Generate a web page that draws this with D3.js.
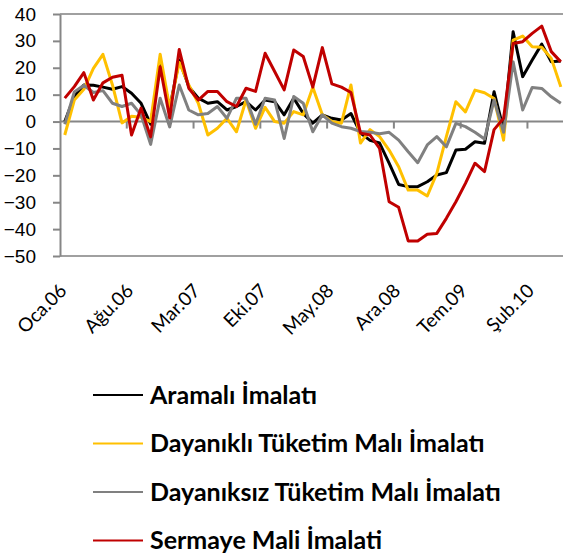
<!DOCTYPE html>
<html>
<head>
<meta charset="utf-8">
<script src="https://cdn.jsdelivr.net/npm/d3@7"></script>
<style>
    body { margin: 0; background: #fff; }
    svg { display: block; font-family: Lato, "Open Sans", sans-serif; }
</style>
</head>
<body>
<div id="chart"></div>
<script>
;(function () {
    "use strict";

    var categories = [
        "Oca.06","Şub.06","Mar.06","Nis.06","May.06","Haz.06","Tem.06","Ağu.06","Eyl.06","Eki.06","Kas.06","Ara.06",
        "Oca.07","Şub.07","Mar.07","Nis.07","May.07","Haz.07","Tem.07","Ağu.07","Eyl.07","Eki.07","Kas.07","Ara.07",
        "Oca.08","Şub.08","Mar.08","Nis.08","May.08","Haz.08","Tem.08","Ağu.08","Eyl.08","Eki.08","Kas.08","Ara.08",
        "Oca.09","Şub.09","Mar.09","Nis.09","May.09","Haz.09","Tem.09","Ağu.09","Eyl.09","Eki.09","Kas.09","Ara.09",
        "Oca.10","Şub.10","Mar.10","Nis.10","May.10"
    ];

    var aramali = [
        0, 9.3, 13.6, 13.5, 12.8, 12, 13, 10.5, 6.8, -1, 21, 5,
        22.9, 13, 8.7, 6.8, 7.4, 4.3, 5.6, 7.4, 4.3, 8, 7.4, 2.5,
        8.7, 3, -0.6, 2.5, 1.2, 0.6, 3, -4.3, -7, -8, -15.5, -23.4,
        -24.2, -24.2, -22.4, -19.9, -19, -10.6, -10.3, -7.5, -8.1, 11.1, -3, 33.4,
        16.7, 22.9, 28.8, 22.2, 22.5
    ];
    var dayanikli = [
        -5, 8, 12, 19.8, 25, 13.6, -0.5, 2, 1.6, 0, 25, 5,
        22, 13.6, 6.8, -5, -2.5, 1.2, -3.8, 8, -2.5, 5.3, 0, -0.6,
        3.7, 2.5, 12.8, 2.5, 0, -0.6, 13.6, -8, -3, -5.6, -10.6, -16.8,
        -25.5, -25.5, -27.7, -19.3, -5.6, 7.4, 3.6, 11.7, 10.7, 8.6, -6.9, 30.3,
        31.8, 27.8, 27.6, 23.5, 12.9
    ];
    var dayaniksiz = [
        -1, 11, 13.5, 10.8, 11.5, 6.8, 5.6, 6.8, 2.5, -8.5, 8.7, -2,
        13.6, 4.3, 2.5, 3, 5.6, 1.2, 8.7, 8.7, -1, 8.7, 8, -6.3,
        9.3, 6.8, -3.8, 2.5, -0.6, -1.9, -2.5, -3.7, -4, -4.5, -4, -6.9,
        -11.2, -15.3, -8.7, -5.6, -9.4, -0.7, -1.9, -4, -6.5, 8, -4, 22.2,
        4.3, 12.7, 12.3, 9.2, 6.8
    ];
    var sermaye = [
        8.7, 13, 18.2, 8, 14.4, 16.5, 17.2, -5, 5, -5.7, 20.4, 1.3,
        26.8, 12.4, 8, 11.2, 11.2, 7.4, 5.6, 12.4, 11.2, 25.4, 18.6, 11.8,
        26.6, 24.2, 12.8, 27.5, 14, 12.8, 10.8, -4.3, -5, -10, -29.8, -31.9,
        -44.4, -44.4, -41.9, -41.6, -36, -29.8, -23, -15.5, -18.6, -3, 1.2, 29,
        29.7, 32.8, 35.5, 26, 22.2
    ];

    var seriesNames = ["Aramalı İmalatı", "Dayanıklı Tüketim Malı İmalatı", "Dayanıksız Tüketim Malı İmalatı", "Sermaye Mali İmalati"];
    var seriesColors = ["#000000", "#FFC000", "#808080", "#C00000"];
    var seriesValues = [aramali, dayanikli, dayaniksiz, sermaye];
    var yTicks = [40, 30, 20, 10, 0, -10, -20, -30, -40, -50];
    var labelStep = 7;

    var width = 563, height = 558;
    var left = 60, top = 14, plotW = 505.6, bottom = 256;

    var svg = d3.select("#chart").append("svg")
        .attr("width", width)
        .attr("height", height);

    var x = d3.scaleBand().domain(categories).range([left, left + plotW]).padding(0);
    var y = d3.scaleLinear().domain([-50, 40]).range([bottom, top]);
    var cx = function (i) { return x(categories[i]) + x.bandwidth() / 2; };

    // plot frame lines top / bottom
    svg.append("line").attr("x1", left).attr("x2", width).attr("y1", y(40)).attr("y2", y(40))
        .attr("stroke", "#a0a0a0").attr("stroke-width", 2);
    svg.append("line").attr("x1", left).attr("x2", width).attr("y1", y(-50)).attr("y2", y(-50))
        .attr("stroke", "#a0a0a0").attr("stroke-width", 2);

    // y axis
    var yAxis = svg.append("g")
        .attr("transform", "translate(" + left + ",0)")
        .call(d3.axisLeft(y).tickValues(yTicks).tickSize(7).tickSizeOuter(0).tickFormat(d3.format("d")));
    yAxis.select(".domain").attr("stroke", "#868686").attr("stroke-width", 2);
    yAxis.selectAll(".tick line").attr("stroke", "#868686").attr("stroke-width", 2);
    yAxis.selectAll(".tick text")
        .attr("x", -24)
        .attr("fill", "#000")
        .style("font-size", "19px");

    // zero line with category ticks between months
    var tickIdx = d3.range(0, categories.length, labelStep);
    svg.append("line").attr("x1", left).attr("x2", width).attr("y1", y(0)).attr("y2", y(0))
        .attr("stroke", "#868686").attr("stroke-width", 2);
    svg.append("g").selectAll("line").data(tickIdx.slice(1)).join("line")
        .attr("x1", function (i) { return x(categories[i]); })
        .attr("x2", function (i) { return x(categories[i]); })
        .attr("y1", y(0)).attr("y2", y(0) + 7)
        .attr("stroke", "#868686").attr("stroke-width", 2);

    // month labels, rotated
    svg.append("g").selectAll("text").data(tickIdx).join("text")
        .attr("transform", function (i) { return "translate(" + (cx(i) + 3) + ",292) rotate(-45)"; })
        .attr("text-anchor", "end")
        .style("font-size", "19px")
        .text(function (i) { return categories[i]; });

    // series
    var line = d3.line()
        .x(function (d, i) { return cx(i); })
        .y(function (d) { return y(d); });

    svg.append("g").selectAll("path").data(seriesValues).join("path")
        .attr("d", line)
        .attr("fill", "none")
        .attr("stroke", function (d, i) { return seriesColors[i]; })
        .attr("stroke-width", 3)
        .attr("stroke-linejoin", "round");

    // legend
    var legend = svg.append("g").selectAll("g").data(seriesNames).join("g")
        .attr("transform", function (d, i) { return "translate(93," + (395 + i * 48.5) + ")"; });
    legend.append("line")
        .attr("x1", 0).attr("x2", 50)
        .attr("stroke", function (d, i) { return seriesColors[i]; })
        .attr("stroke-width", 2);
    legend.append("text")
        .attr("x", 57).attr("y", 8.5)
        .style("font-size", "25px")
        .style("font-weight", "bold")
        .text(function (d) { return d; });
}());
</script>
</body>
</html>
